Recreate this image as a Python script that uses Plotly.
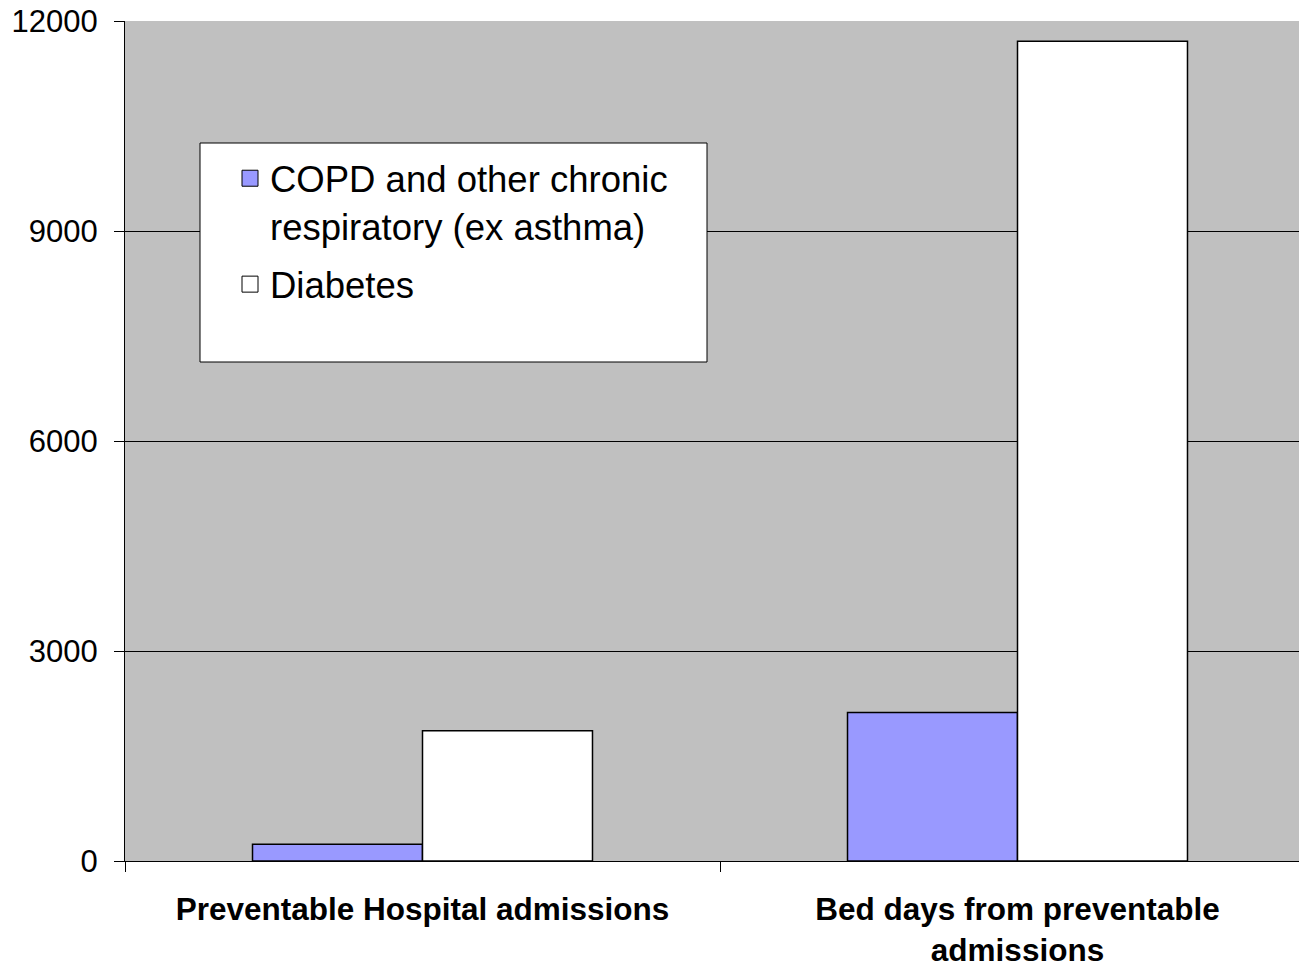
import plotly.graph_objects as go

categories = ["Preventable Hospital admissions", "Bed days from preventable<br>admissions"]
series_names = ["COPD and other chronic<br>respiratory (ex asthma)", "Diabetes"]
copd_values = [240, 2120]
diabetes_values = [1860, 11710]
y_ticks = [0, 3000, 6000, 9000, 12000]
y_tick_labels = ["0", "3000", "6000", "9000", "12000"]
colors = ["#9999FF", "#FFFFFF"]
groups = ["copd", "diabetes"]

fig = go.Figure()
for vals, col, name, grp in zip([copd_values, diabetes_values], colors, series_names, groups):
    fig.add_trace(go.Bar(x=categories, y=vals, name=name, showlegend=False, legendgroup=grp,
                         marker=dict(color=col, line=dict(color="black", width=1.5))))
    # legend entry with a larger square swatch
    fig.add_trace(go.Scatter(x=[None], y=[None], mode="markers", name=name, legendgroup=grp,
                             marker=dict(symbol="square", size=22, color=col,
                                         line=dict(color="black", width=1))))

# the plot area runs slightly past the right edge of the window, as in the reference
W, H = 1316, 965
ml, mr, mt, mb = 125, 1, 21, 104
pw, ph = W - ml - mr, H - mt - mb

def px_x(p):
    return (p - ml) / pw

def px_y(p):
    return (H - mb - p) / ph

fig.add_shape(type="rect", xref="paper", yref="paper",
              x0=px_x(200), x1=px_x(707), y0=px_y(362), y1=px_y(143),
              fillcolor="white", line=dict(color="black", width=1), layer="above")

fig.update_layout(
    width=W, height=H,
    margin=dict(l=ml, r=mr, t=mt, b=mb, autoexpand=False),
    paper_bgcolor="white",
    plot_bgcolor="#C0C0C0",
    barmode="group",
    bargap=0.4286,
    bargroupgap=0,
    font=dict(family="Liberation Sans, Arial, sans-serif", color="black", size=31),
    legend=dict(x=px_x(230), y=px_y(148), xanchor="left", yanchor="top",
                bgcolor="rgba(0,0,0,0)", borderwidth=0, itemsizing="trace",
                valign="top", font=dict(size=36.5), tracegroupgap=8),
    showlegend=True,
)
fig.update_yaxes(range=[0, 12000], tickvals=y_ticks, ticktext=y_tick_labels,
                 ticks="outside", ticklen=10, automargin=False,
                 tickcolor="black", showgrid=True, gridcolor="black", gridwidth=1,
                 showline=True, linecolor="black", linewidth=1, zeroline=False,
                 tickfont=dict(size=31), ticklabelstandoff=10)
fig.update_xaxes(type="category", tickson="boundaries", ticks="outside", ticklen=10,
                 automargin=False, ticklabelstandoff=20,
                 tickcolor="black", showline=True, linecolor="black", linewidth=1,
                 tickfont=dict(size=31.5, family="Liberation Sans, Arial, sans-serif", weight="bold"))

fig.write_html("out.html", config={"displayModeBar": False},
               post_script="document.body.style.margin='0';document.body.style.overflow='hidden';")
